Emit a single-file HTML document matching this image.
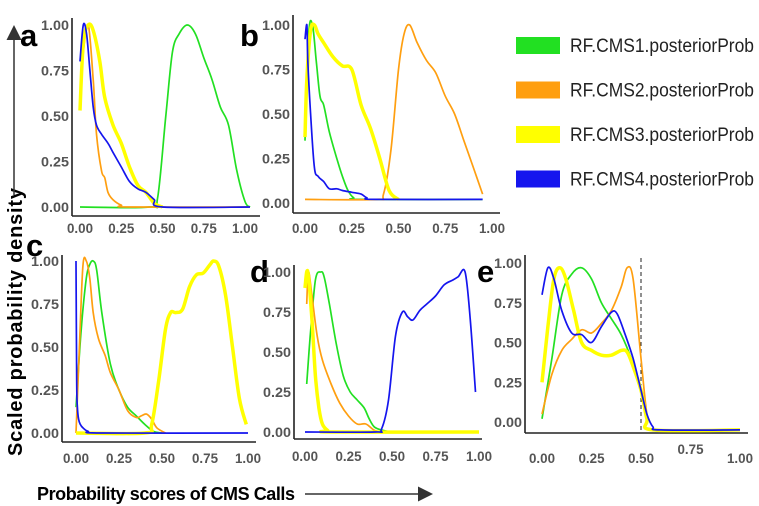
<!DOCTYPE html>
<html><head><meta charset="utf-8"><style>
html,body{margin:0;padding:0;background:#fff;width:759px;height:506px;overflow:hidden}
svg{display:block;font-family:"Liberation Sans",sans-serif}
.tk{font-size:14px;font-weight:bold;fill:#555}
.lt{font-size:31px;font-weight:bold;fill:#000}
</style></head><body>
<svg id="fig" width="759" height="506" viewBox="0 0 759 506">
<defs><marker id="ah" markerWidth="10" markerHeight="10" refX="8" refY="5" orient="auto"><path d="M0,0 L10,5 L0,10 z" fill="#333"/></marker></defs>
<text x="22" y="322" transform="rotate(-90 22 322)" text-anchor="middle" font-size="20" font-weight="bold" textLength="268">Scaled probability density</text>
<line x1="14" y1="195" x2="14" y2="28" stroke="#333" stroke-width="1.5" marker-end="url(#ah)"/>
<text x="37" y="500" font-size="18" font-weight="bold" textLength="258">Probability scores of CMS Calls</text>
<line x1="305" y1="494" x2="430" y2="494" stroke="#333" stroke-width="1.5" marker-end="url(#ah)"/>
<g id="legend"></g>
<g id="panels"></g>
</svg>
<script>
// Legend data
const seriesNames = ["RF.CMS1.posteriorProb","RF.CMS2.posteriorProb","RF.CMS3.posteriorProb","RF.CMS4.posteriorProb"];
const seriesColors = ["#22e022","#ff9f10","#ffff00","#1515ee"];
const yTicks = [0,0.25,0.5,0.75,1];
const xTicks = [0,0.25,0.5,0.75,1];
const tickLabels = ["0.00","0.25","0.50","0.75","1.00"];

// Panel a
const aGreenX=[0,0.42,0.47,0.52,0.56,0.6,0.65,0.7,0.75,0.8,0.85,0.9,0.95,1.0,1.03];
const aGreenY=[0,0,0.05,0.5,0.85,0.95,1,0.95,0.82,0.7,0.55,0.45,0.2,0.03,0];
const aOrangeX=[0,0.02,0.05,0.08,0.1,0.13,0.15,0.17,0.2,0.25,0.3,1.03];
const aOrangeY=[0.55,0.85,1,0.7,0.4,0.2,0.16,0.08,0.04,0.01,0,0];
const aYellowX=[0,0.02,0.05,0.08,0.12,0.15,0.2,0.25,0.3,0.35,0.4,0.45,0.5];
const aYellowY=[0.53,0.9,1,0.97,0.8,0.6,0.45,0.35,0.22,0.12,0.08,0.02,0];
const aBlueX=[0,0.02,0.04,0.06,0.08,0.1,0.13,0.17,0.2,0.25,0.3,0.35,0.4,0.45,0.5,1.03];
const aBlueY=[0.8,1,0.95,0.75,0.55,0.45,0.4,0.35,0.3,0.22,0.14,0.1,0.08,0.04,0,0];
// Panel b
const bGreenX=[0,0.02,0.04,0.06,0.08,0.1,0.13,0.17,0.2,0.23,0.26,0.3,0.95];
const bGreenY=[0.35,0.95,1,0.8,0.6,0.55,0.4,0.25,0.15,0.07,0.03,0.02,0.02];
const bOrangeX=[0,0.38,0.42,0.46,0.5,0.53,0.56,0.6,0.65,0.7,0.75,0.8,0.85,0.9,0.95];
const bOrangeY=[0.02,0.02,0.05,0.3,0.75,0.95,1,0.9,0.8,0.73,0.6,0.5,0.35,0.2,0.05];
const bYellowX=[0,0.01,0.03,0.05,0.07,0.1,0.15,0.2,0.25,0.3,0.35,0.4,0.45,0.5];
const bYellowY=[0.37,0.7,0.97,1,0.95,0.9,0.82,0.77,0.75,0.55,0.42,0.25,0.07,0.02];
const bBlueX=[0,0.01,0.015,0.03,0.05,0.07,0.1,0.13,0.17,0.2,0.25,0.3,0.33,0.38,0.95];
const bBlueY=[0.92,1,0.8,0.5,0.2,0.15,0.12,0.08,0.08,0.07,0.06,0.05,0.03,0.02,0.02];
// Panel c
const cGreenX=[0,0.03,0.06,0.08,0.1,0.12,0.15,0.2,0.25,0.3,0.35,0.4,0.45,0.5];
const cGreenY=[0.15,0.6,0.9,0.98,1,0.95,0.7,0.4,0.25,0.15,0.1,0.05,0.01,0];
const cOrangeX=[0,0.02,0.04,0.06,0.08,0.1,0.13,0.17,0.2,0.25,0.3,0.35,0.38,0.41,0.44,0.47,0.52];
const cOrangeY=[0,0.5,0.97,1,0.9,0.7,0.55,0.45,0.35,0.25,0.13,0.09,0.1,0.11,0.08,0.03,0];
const cYellowX=[0,0.4,0.44,0.48,0.52,0.55,0.58,0.62,0.66,0.7,0.74,0.78,0.8,0.83,0.87,0.91,0.95,0.99];
const cYellowY=[0,0,0.05,0.3,0.6,0.7,0.7,0.72,0.85,0.92,0.93,0.98,1,0.97,0.8,0.5,0.2,0.05];
const cBlueX=[0,0.004,0.008,0.015,0.025,0.04,0.07,0.15,1.0];
const cBlueY=[1,0.3,0.15,0.08,0.05,0.03,0.01,0,0];
// Panel d
const dGreenX=[0.01,0.03,0.06,0.09,0.11,0.14,0.18,0.22,0.26,0.3,0.34,0.37,0.4,0.45,0.5];
const dGreenY=[0.3,0.6,0.95,1,0.97,0.8,0.55,0.35,0.25,0.2,0.15,0.08,0.03,0.01,0];
const dOrangeX=[0.01,0.02,0.04,0.07,0.1,0.15,0.2,0.25,0.3,0.35,0.4,0.45];
const dOrangeY=[0.8,1,0.85,0.6,0.45,0.3,0.18,0.1,0.05,0.05,0.01,0];
const dYellowX=[0,0.01,0.02,0.04,0.06,0.08,0.1,0.13,0.16,1.0];
const dYellowY=[0.9,1,0.97,0.7,0.35,0.15,0.05,0.01,0,0];
const dBlueX=[0,0.4,0.44,0.48,0.52,0.56,0.59,0.62,0.66,0.7,0.75,0.8,0.85,0.88,0.92,0.95,0.98];
const dBlueY=[0,0,0.02,0.2,0.6,0.75,0.72,0.7,0.76,0.8,0.85,0.92,0.95,0.97,1,0.7,0.25];
// Panel e
const eGreenX=[0,0.05,0.1,0.15,0.2,0.25,0.3,0.35,0.4,0.45,0.5,0.53,0.56,1];
const eGreenY=[0.02,0.4,0.8,0.93,0.97,0.9,0.75,0.65,0.55,0.4,0.2,0.02,-0.05,-0.05];
const eOrangeX=[0,0.05,0.1,0.15,0.2,0.25,0.3,0.35,0.4,0.43,0.46,0.5,0.53,0.56,1];
const eOrangeY=[0.05,0.3,0.45,0.52,0.58,0.56,0.62,0.7,0.85,0.97,0.9,0.4,0.05,-0.05,-0.05];
const eYellowX=[0,0.03,0.06,0.09,0.12,0.16,0.2,0.25,0.3,0.35,0.4,0.43,0.46,0.5,0.53,0.56,1.0];
const eYellowY=[0.25,0.6,0.9,0.97,0.9,0.7,0.5,0.45,0.42,0.42,0.45,0.44,0.35,0.2,0.02,-0.05,-0.05];
const eBlueX=[0,0.03,0.06,0.1,0.15,0.2,0.25,0.3,0.35,0.38,0.42,0.46,0.5,0.53,0.56,0.6,1.0];
const eBlueY=[0.8,0.97,0.9,0.7,0.56,0.55,0.5,0.6,0.69,0.68,0.55,0.4,0.2,0.05,-0.03,-0.05,-0.05];

const NS="http://www.w3.org/2000/svg";
function mk(tag,attrs,parent){const e=document.createElementNS(NS,tag);for(const k in attrs)e.setAttribute(k,attrs[k]);parent.appendChild(e);return e;}
const leg=document.getElementById('legend');
seriesNames.forEach((n,i)=>{
  const y=37+i*44.5;
  const r=mk('rect',{x:516,y:y,width:44,height:17,fill:seriesColors[i]},leg);
  
  
  const t=mk('text',{x:570,y:y+15,'font-size':19,fill:'#222',textLength:184,lengthAdjust:'spacingAndGlyphs'},leg);
  t.textContent=n;
  
  
});

const panels=[
 {id:'a',ax:72,top:18,bot:216,right:260,x0:80,x1:245,y0:207,y1:25,xl:233,lx:20,ly:46,
  s:[[aGreenX,aGreenY],[aOrangeX,aOrangeY],[aYellowX,aYellowY],[aBlueX,aBlueY]]},
 {id:'b',ax:293,top:15,bot:213,right:500,x0:305,x1:492,y0:203,y1:25,xl:233,lx:240,ly:46,
  s:[[bGreenX,bGreenY],[bOrangeX,bOrangeY],[bYellowX,bYellowY],[bBlueX,bBlueY]]},
 {id:'c',ax:62,top:255,bot:442,right:256,x0:76,x1:248,y0:433,y1:261,xl:463,lx:26,ly:256,
  s:[[cGreenX,cGreenY],[cOrangeX,cOrangeY],[cYellowX,cYellowY],[cBlueX,cBlueY]]},
 {id:'d',ax:294,top:265,bot:439,right:482,x0:305,x1:479,y0:432,y1:272,xl:461,lx:250,ly:282,
  s:[[dGreenX,dGreenY],[dOrangeX,dOrangeY],[dYellowX,dYellowY],[dBlueX,dBlueY]]},
 {id:'e',ax:525,top:255,bot:433,right:748,x0:542,x1:740,y0:422,y1:263,xl:463,lx:477,ly:282,dash:0.5,
  s:[[eGreenX,eGreenY],[eOrangeX,eOrangeY],[eYellowX,eYellowY],[eBlueX,eBlueY]]}
];
function smooth(pts){
  let d='M'+pts[0][0].toFixed(1)+','+pts[0][1].toFixed(1);
  for(let i=0;i<pts.length-1;i++){
    const p0=pts[i-1]||pts[i],p1=pts[i],p2=pts[i+1],p3=pts[i+2]||p2;
    const c1=[p1[0]+(p2[0]-p0[0])/6,p1[1]+(p2[1]-p0[1])/6];
    const c2=[p2[0]-(p3[0]-p1[0])/6,p2[1]-(p3[1]-p1[1])/6];
    d+=' C'+c1.map(v=>v.toFixed(1))+' '+c2.map(v=>v.toFixed(1))+' '+p2.map(v=>v.toFixed(1));
  }
  return d;
}
const drawOrder=[0,1,2,3];
panels.forEach(p=>{
  const g=mk('g',{},document.getElementById('panels'));
  
  
  const sx=v=>p.x0+v*(p.x1-p.x0), sy=v=>p.y0+v*(p.y1-p.y0);
  const L=mk('text',{x:p.lx,y:p.ly,class:'lt'},g);L.textContent=p.id;
  
  
  const ya=mk('line',{x1:p.ax,y1:p.top,x2:p.ax,y2:p.bot,stroke:'#222','stroke-width':1.6},g);
  
  
  const xa=mk('line',{x1:p.ax,y1:p.bot,x2:p.right,y2:p.bot,stroke:'#222','stroke-width':1.6},g);
  
  
  yTicks.forEach((v,i)=>{
    const t=mk('text',{x:p.ax-3,y:sy(v)+5,class:'tk','text-anchor':'end',textLength:28,lengthAdjust:'spacingAndGlyphs'},g);t.textContent=tickLabels[i];
    
    
  });
  xTicks.forEach((v,i)=>{
    const yy=(p.id==='e'&&i===3)?p.xl-9:p.xl;
    const t=mk('text',{x:sx(v)-13,y:yy,class:'tk',textLength:26,lengthAdjust:'spacingAndGlyphs'},g);t.textContent=tickLabels[i];
    
    
  });
  if(p.dash!==undefined){
    const dl=mk('line',{x1:sx(p.dash),y1:p.top+3,x2:sx(p.dash),y2:p.bot,stroke:'#222','stroke-width':1,'stroke-dasharray':'4,3'},g);
    
    
  }
  drawOrder.forEach(i=>{
    const [xs,ys]=p.s[i];
    const pts=xs.map((x,k)=>[sx(x),sy(ys[k])]);
    const path=mk('path',{d:smooth(pts),fill:'none',stroke:seriesColors[i],'stroke-width':i===2?3.5:1.7,'stroke-linejoin':'round'},g);
    
    
  });
});
</script>
</body></html>
